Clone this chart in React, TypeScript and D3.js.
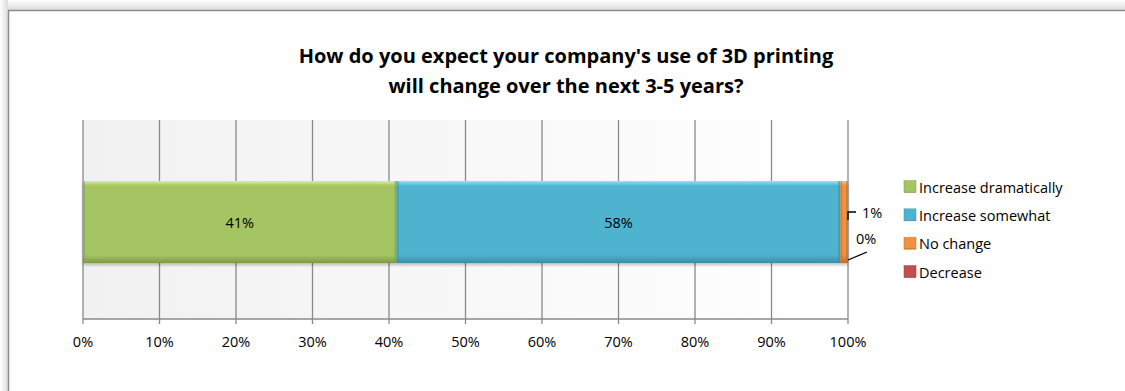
import React from "react";
import * as d3 from "d3";

const categories = ["Increase dramatically", "Increase somewhat", "No change", "Decrease"];
const values = [41, 58, 1, 0];
const colors = ["#a5c562", "#4db3cf", "#f0923f", "#c0504d"];
const lightColors = ["#d8f09a", "#8fe6f8", "#ffc27f", "#e88884"];
const darkColors = ["#7e9a45", "#3a8ea6", "#c06f28", "#963c3a"];
const tickValues = [0, 10, 20, 30, 40, 50, 60, 70, 80, 90, 100];
const titleLines = ["How do you expect your company's use of 3D printing", "will change over the next 3-5 years?"];

const W = 1125;
const H = 391;
const FONT = "'Open Sans', Lato, sans-serif";

export default function App() {
  const x = d3.scaleLinear().domain([0, 100]).range([83, 848]);
  const plotTop = 120;
  const plotBottom = 319;
  const barTop = 181;
  const barBottom = 263;
  const stacked = values.map((v, i) => {
    const start = d3.sum(values.slice(0, i));
    return { v, i, x0: x(start), x1: x(start + v) };
  });
  const legendY = d3.scalePoint<number>().domain([0, 1, 2, 3]).range([186.5, 271.5]);

  return (
    <svg width={W} height={H} style={{ position: "absolute", left: 0, top: 0 }}>
      <defs>
        <linearGradient id="plotBg" x1="0" x2="1" y1="0" y2="0">
          <stop offset="0" stopColor="#f1f1f1" />
          <stop offset="1" stopColor="#ffffff" />
        </linearGradient>
        <linearGradient id="shadowTop" x1="0" x2="0" y1="0" y2="1">
          <stop offset="0" stopColor="#ffffff" />
          <stop offset="1" stopColor="#dcdcdc" />
        </linearGradient>
        <linearGradient id="shadowLeft" x1="0" x2="1" y1="0" y2="0">
          <stop offset="0" stopColor="#ffffff" />
          <stop offset="1" stopColor="#dcdcdc" />
        </linearGradient>
        <filter id="barShadow" x="-5%" y="-10%" width="110%" height="130%">
          <feDropShadow dx="0" dy="2" stdDeviation="1.5" floodColor="#000" floodOpacity="0.25" />
        </filter>
        {colors.map((c, i) => (
          <linearGradient key={i} id={`bar${i}`} x1="0" x2="0" y1="0" y2="1">
            <stop offset="0" stopColor={lightColors[i]} />
            <stop offset="0.06" stopColor={c} />
            <stop offset="0.9" stopColor={c} />
            <stop offset="1" stopColor={darkColors[i]} />
          </linearGradient>
        ))}
      </defs>
      <rect x={0} y={0} width={W} height={10} fill="url(#shadowTop)" />
      <rect x={0} y={0} width={8} height={H} fill="url(#shadowLeft)" />
      <rect x={8.5} y={10.5} width={W + 20} height={H + 20} fill="#ffffff" stroke="#8c8c8c" strokeWidth={1.5} />

      {titleLines.map((t, i) => (
        <text key={i} x={566} y={63 + i * 30} textAnchor="middle" fontFamily={FONT} fontWeight="bold" fontSize={20} fill="#000">
          {t}
        </text>
      ))}

      <rect x={x(0)} y={plotTop} width={x(100) - x(0)} height={plotBottom - plotTop} fill="url(#plotBg)" />
      {tickValues.map((t) => (
        <line key={t} x1={x(t)} x2={x(t)} y1={plotTop} y2={plotBottom + 5} stroke="#8a8a8a" strokeWidth={1.3} />
      ))}
      <line x1={x(0)} x2={x(100)} y1={plotBottom} y2={plotBottom} stroke="#8a8a8a" strokeWidth={1.5} />
      {tickValues.map((t) => (
        <text key={t} x={x(t)} y={347} textAnchor="middle" fontFamily={FONT} fontSize={14.5} fill="#000">
          {t}%
        </text>
      ))}

      <g filter="url(#barShadow)">
        {stacked.map((s) =>
          s.v > 0 ? (
            <g key={s.i}>
              <rect x={s.x0} y={barTop} width={s.x1 - s.x0} height={barBottom - barTop} fill={`url(#bar${s.i})`} />
              <rect x={s.x0} y={barTop} width={Math.min(2, s.x1 - s.x0)} height={barBottom - barTop} fill={darkColors[s.i]} opacity={0.5} />
              <rect x={s.x1 - Math.min(2, s.x1 - s.x0)} y={barTop} width={Math.min(2, s.x1 - s.x0)} height={barBottom - barTop} fill={darkColors[s.i]} opacity={0.6} />
            </g>
          ) : null
        )}
      </g>
      {stacked.slice(0, 2).map((s) => (
        <text key={s.i} x={(s.x0 + s.x1) / 2} y={228} textAnchor="middle" fontFamily={FONT} fontSize={14.5} fill="#000">
          {s.v}%
        </text>
      ))}
      {/* small-segment labels with leader lines */}
      <path d={`M${x(100)},${220} L${x(100)},${212} L${x(100) + 8},${212}`} fill="none" stroke="#000" strokeWidth={1.3} />
      <text x={862} y={218} fontFamily={FONT} fontSize={14.5} fill="#000">{values[2]}%</text>
      <path d={`M${x(100)},${260} L${x(100) + 19},${252}`} fill="none" stroke="#000" strokeWidth={1.3} />
      <text x={856} y={244} fontFamily={FONT} fontSize={14.5} fill="#000">{values[3]}%</text>

      {categories.map((c, i) => (
        <g key={c} transform={`translate(904,${legendY(i)})`}>
          <rect x={0} y={-6} width={12} height={12} fill={`url(#bar${i})`} stroke={darkColors[i]} strokeWidth={0.5} />
          <text x={15} y={6} fontFamily={FONT} fontSize={14.5} fill="#000">{c}</text>
        </g>
      ))}
    </svg>
  );
}
